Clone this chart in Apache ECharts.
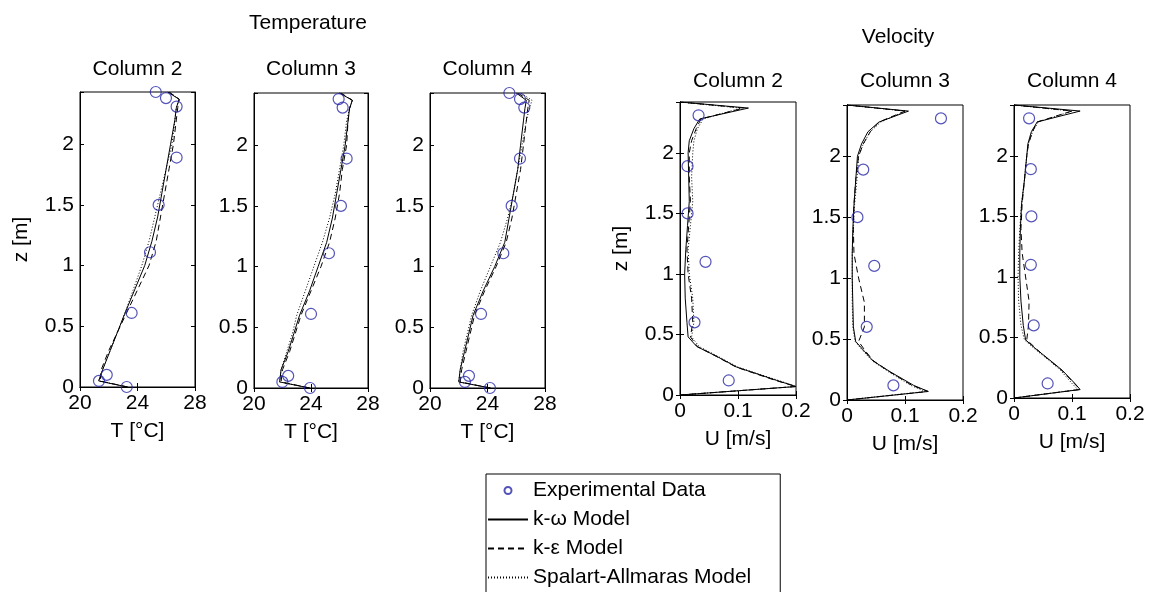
<!DOCTYPE html>
<html>
<head>
<meta charset="utf-8">
<script src="https://cdn.jsdelivr.net/npm/echarts@6/dist/echarts.min.js"></script>
<style>html,body{margin:0;background:#fff}#chart{width:1150px;height:592px}</style>
</head>
<body>
<div id="chart"></div>
<script>
const font = 'Liberation Sans, Arial, sans-serif';

// temperature: measured heights and values
const tExpZ = [0, 0.05, 0.10, 0.61, 1.11, 1.50, 1.89, 2.31, 2.38, 2.43];
const tExpZ3 = [0, 0.05, 0.10, 0.61, 1.11, 1.50, 1.89, 2.31, 2.38];
const tExpCol2 = [23.25, 21.32, 21.86, 23.59, 24.87, 25.47, 26.72, 26.72, 25.98, 25.27];
const tExpCol3 = [23.93, 21.99, 22.4, 24.0, 25.26, 26.1, 26.5, 26.22, 25.94];
const tExpCol4 = [24.17, 22.43, 22.71, 23.55, 25.1, 25.68, 26.26, 26.56, 26.26, 25.52];

// temperature: model profiles
const tZ = [0, 0.05, 0.15, 0.3, 0.45, 0.6, 0.8, 1.0, 1.2, 1.4, 1.6, 1.8, 2.0, 2.2, 2.3, 2.37, 2.43];
const tKwCol2 = [23.3, 21.3, 21.6, 22.1, 22.6, 23.1, 23.8, 24.5, 25.0, 25.4, 25.7, 26.0, 26.3, 26.6, 26.7, 26.9, 26.1];
const tKeCol2 = [23.3, 21.4, 21.5, 22.0, 22.6, 23.2, 24.0, 24.8, 25.3, 25.6, 25.9, 26.2, 26.5, 26.7, 26.8, 26.9, 26.2];
const tSaCol2 = [23.3, 21.3, 21.6, 22.1, 22.6, 23.1, 23.7, 24.3, 24.8, 25.2, 25.6, 26.0, 26.4, 26.6, 26.7, 26.9, 26.2];
const tKwCol3 = [23.9, 21.8, 21.9, 22.4, 22.8, 23.2, 23.9, 24.5, 25.1, 25.5, 25.8, 26.1, 26.4, 26.6, 26.7, 26.9, 26.0];
const tKeCol3 = [23.9, 21.9, 22.0, 22.5, 22.9, 23.3, 24.0, 24.7, 25.3, 25.7, 26.0, 26.2, 26.5, 26.6, 26.7, 26.9, 26.1];
const tSaCol3 = [23.9, 21.8, 21.9, 22.3, 22.7, 23.0, 23.6, 24.2, 24.8, 25.3, 25.7, 26.0, 26.3, 26.5, 26.7, 26.9, 26.0];
const tKwCol4 = [24.2, 22.0, 22.1, 22.4, 22.7, 23.0, 23.7, 24.5, 25.2, 25.5, 25.8, 26.1, 26.3, 26.5, 26.6, 26.7, 26.0];
const tKeCol4 = [24.2, 22.1, 22.2, 22.5, 22.8, 23.1, 23.8, 24.6, 25.3, 25.7, 26.0, 26.3, 26.5, 26.7, 26.8, 26.9, 26.1];
const tSaCol4 = [24.2, 22.0, 22.1, 22.3, 22.6, 22.9, 23.5, 24.2, 24.9, 25.4, 25.8, 26.1, 26.4, 26.7, 26.9, 27.1, 26.3];

// velocity: measured heights and values
const uExpZ = [0.12, 0.6, 1.1, 1.5, 1.89, 2.31];
const uExpCol2 = [0.084, 0.025, 0.044, 0.013, 0.013, 0.032];
const uExpCol3 = [0.08, 0.034, 0.047, 0.018, 0.028, 0.162];
const uExpCol4 = [0.058, 0.034, 0.029, 0.030, 0.029, 0.026];

// velocity: model profiles
const uZ = [0, 0.07, 0.12, 0.23, 0.32, 0.4, 0.48, 0.6, 0.8, 1.0, 1.2, 1.4, 1.6, 1.8, 2.0, 2.1, 2.2, 2.28, 2.37, 2.42];
const uKwCol2 = [0, 0.2, 0.167, 0.098, 0.063, 0.029, 0.014, 0.012, 0.009, 0.008, 0.010, 0.013, 0.016, 0.015, 0.014, 0.016, 0.024, 0.034, 0.118, 0];
const uKeCol2 = [0, 0.2, 0.165, 0.097, 0.062, 0.03, 0.018, 0.022, 0.02, 0.014, 0.012, 0.015, 0.018, 0.016, 0.016, 0.02, 0.028, 0.036, 0.11, 0];
const uSaCol2 = [0, 0.2, 0.17, 0.10, 0.065, 0.033, 0.02, 0.024, 0.022, 0.016, 0.014, 0.018, 0.022, 0.02, 0.022, 0.024, 0.03, 0.04, 0.105, 0];
const uKwCol3 = [0, 0.14, 0.115, 0.075, 0.045, 0.03, 0.015, 0.011, 0.01, 0.009, 0.009, 0.01, 0.012, 0.015, 0.018, 0.025, 0.036, 0.055, 0.106, 0];
const uKeCol3 = [0, 0.14, 0.112, 0.074, 0.046, 0.032, 0.02, 0.03, 0.03, 0.02, 0.012, 0.011, 0.012, 0.015, 0.02, 0.028, 0.04, 0.055, 0.1, 0];
const uSaCol3 = [0, 0.135, 0.11, 0.072, 0.044, 0.028, 0.014, 0.01, 0.009, 0.009, 0.009, 0.011, 0.013, 0.017, 0.02, 0.028, 0.04, 0.058, 0.1, 0];
const uKwCol4 = [0, 0.114, 0.105, 0.083, 0.06, 0.039, 0.02, 0.016, 0.012, 0.01, 0.01, 0.011, 0.013, 0.018, 0.022, 0.024, 0.03, 0.04, 0.114, 0];
const uKeCol4 = [0, 0.114, 0.104, 0.082, 0.059, 0.04, 0.022, 0.025, 0.026, 0.02, 0.014, 0.012, 0.014, 0.018, 0.022, 0.025, 0.032, 0.04, 0.1, 0];
const uSaCol4 = [0, 0.11, 0.1, 0.08, 0.058, 0.037, 0.018, 0.012, 0.008, 0.007, 0.008, 0.01, 0.013, 0.018, 0.022, 0.025, 0.032, 0.042, 0.1, 0];

const tTicks = [20, 28, 4];
const uTicks = [0, 0.2, 0.1];
const names = ['Experimental Data', 'k-ω Model', 'k-ε Model', 'Spalart-Allmaras Model'];

const pairs = (xs, zs) => xs.map((v, i) => [v, zs[i]]);

const panels = [
  {box: [80, 92, 115, 295], title: 'Column 2', kind: 'T', zMax: 2.43, exp: pairs(tExpCol2, tExpZ), lines: [pairs(tKwCol2, tZ), pairs(tKeCol2, tZ), pairs(tSaCol2, tZ)]},
  {box: [254, 93, 114, 295], title: 'Column 3', kind: 'T', zMax: 2.43, exp: pairs(tExpCol3, tExpZ3), lines: [pairs(tKwCol3, tZ), pairs(tKeCol3, tZ), pairs(tSaCol3, tZ)]},
  {box: [430, 93, 115, 295], title: 'Column 4', kind: 'T', zMax: 2.43, exp: pairs(tExpCol4, tExpZ), lines: [pairs(tKwCol4, tZ), pairs(tKeCol4, tZ), pairs(tSaCol4, tZ)]},
  {box: [680, 102, 116, 293], title: 'Column 2', kind: 'U', zMax: 2.42, exp: pairs(uExpCol2, uExpZ), lines: [pairs(uKwCol2, uZ), pairs(uKeCol2, uZ), pairs(uSaCol2, uZ)]},
  {box: [847, 105, 116, 295], title: 'Column 3', kind: 'U', zMax: 2.42, exp: pairs(uExpCol3, uExpZ), lines: [pairs(uKwCol3, uZ), pairs(uKeCol3, uZ), pairs(uSaCol3, uZ)]},
  {box: [1014, 105, 116, 293], title: 'Column 4', kind: 'U', zMax: 2.42, exp: pairs(uExpCol4, uExpZ), lines: [pairs(uKwCol4, uZ), pairs(uKeCol4, uZ), pairs(uSaCol4, uZ)]},
];

const fs = 21;
const lineTypes = ['solid', [6, 4], [1, 2]];
const label = {color: '#000', fontSize: fs, fontFamily: font};
const tick = {inside: true, length: 4, lineStyle: {color: '#000'}};
const line = {lineStyle: {color: '#000', width: 1}};

const grid = [], xAxis = [], yAxis = [], series = [], graphic = [];
panels.forEach((p, i) => {
  const [l, t, w, h] = p.box;
  grid.push({left: l, top: t, width: w, height: h, show: true, borderColor: '#000', borderWidth: 1, backgroundColor: '#fff'});
  const [xmin, xmax, xint] = p.kind === 'T' ? tTicks : uTicks;
  xAxis.push({
    type: 'value', gridIndex: i, min: xmin, max: xmax, interval: xint, position: 'bottom',
    axisLine: line, axisTick: tick, splitLine: {show: false}, axisLabel: {...label, margin: 6},
    name: p.kind === 'T' ? 'T [°C]' : 'U [m/s]', nameLocation: 'middle', nameGap: 34,
    nameTextStyle: label
  });
  xAxis.push({
    type: 'value', gridIndex: i, min: xmin, max: xmax, interval: xint, position: 'top',
    axisLine: line, axisTick: tick, splitLine: {show: false}, axisLabel: {show: false}
  });
  yAxis.push({
    type: 'value', gridIndex: i, min: 0, max: p.zMax, interval: 0.5, position: 'left',
    axisLine: line, axisTick: tick, splitLine: {show: false},
    axisLabel: {...label, margin: 6, formatter: v => (Math.abs(v * 2 - Math.round(v * 2)) < 1e-6 ? String(v) : '')},
    name: (i === 0 || i === 3) ? 'z [m]' : '', nameLocation: 'middle', nameGap: 48, nameRotate: 90,
    nameTextStyle: label
  });
  yAxis.push({
    type: 'value', gridIndex: i, min: 0, max: p.zMax, interval: 0.5, position: 'right',
    axisLine: line, axisTick: tick, splitLine: {show: false}, axisLabel: {show: false}
  });
  p.lines.forEach((d, k) => {
    series.push({
      name: names[k + 1], type: 'line', xAxisIndex: 2 * i, yAxisIndex: 2 * i, data: d,
      symbol: 'none', clip: true, animation: false,
      lineStyle: {color: '#000', width: 1, type: lineTypes[k]}, itemStyle: {color: '#000'}
    });
  });
  series.push({
    name: names[0], type: 'scatter', xAxisIndex: 2 * i, yAxisIndex: 2 * i, data: p.exp,
    symbol: 'circle', symbolSize: 11, animation: false, z: 3,
    itemStyle: {color: 'rgba(0,0,0,0)', borderColor: '#2828a8', borderWidth: 1.2}
  });
  graphic.push({
    type: 'text', x: l + w / 2, y: p.kind === 'T' ? 69 : 81,
    style: {text: p.title, fill: '#000', font: fs + 'px ' + font, textAlign: 'center', textVerticalAlign: 'middle'}
  });
});
graphic.push({type: 'text', x: 308, y: 23, style: {text: 'Temperature', fill: '#000', font: fs + 'px ' + font, textAlign: 'center', textVerticalAlign: 'middle'}});
graphic.push({type: 'text', x: 898, y: 37, style: {text: 'Velocity', fill: '#000', font: fs + 'px ' + font, textAlign: 'center', textVerticalAlign: 'middle'}});

const chart = echarts.init(document.getElementById('chart'));
chart.setOption({
  animation: false,
  backgroundColor: '#fff',
  grid, xAxis, yAxis, series, graphic,
  legend: {
    orient: 'vertical', left: 486, top: 474, height: 300, itemWidth: 40, itemHeight: 7, itemGap: 8,
    borderColor: '#000', borderWidth: 1, padding: [6, 29, 40, 1],
    textStyle: {fontSize: fs, color: '#000', fontFamily: font},
    data: [
      {name: names[0]},
      {name: names[1], itemStyle: {opacity: 0}},
      {name: names[2], itemStyle: {opacity: 0}},
      {name: names[3], itemStyle: {opacity: 0}}
    ]
  }
});
</script>
</body>
</html>
